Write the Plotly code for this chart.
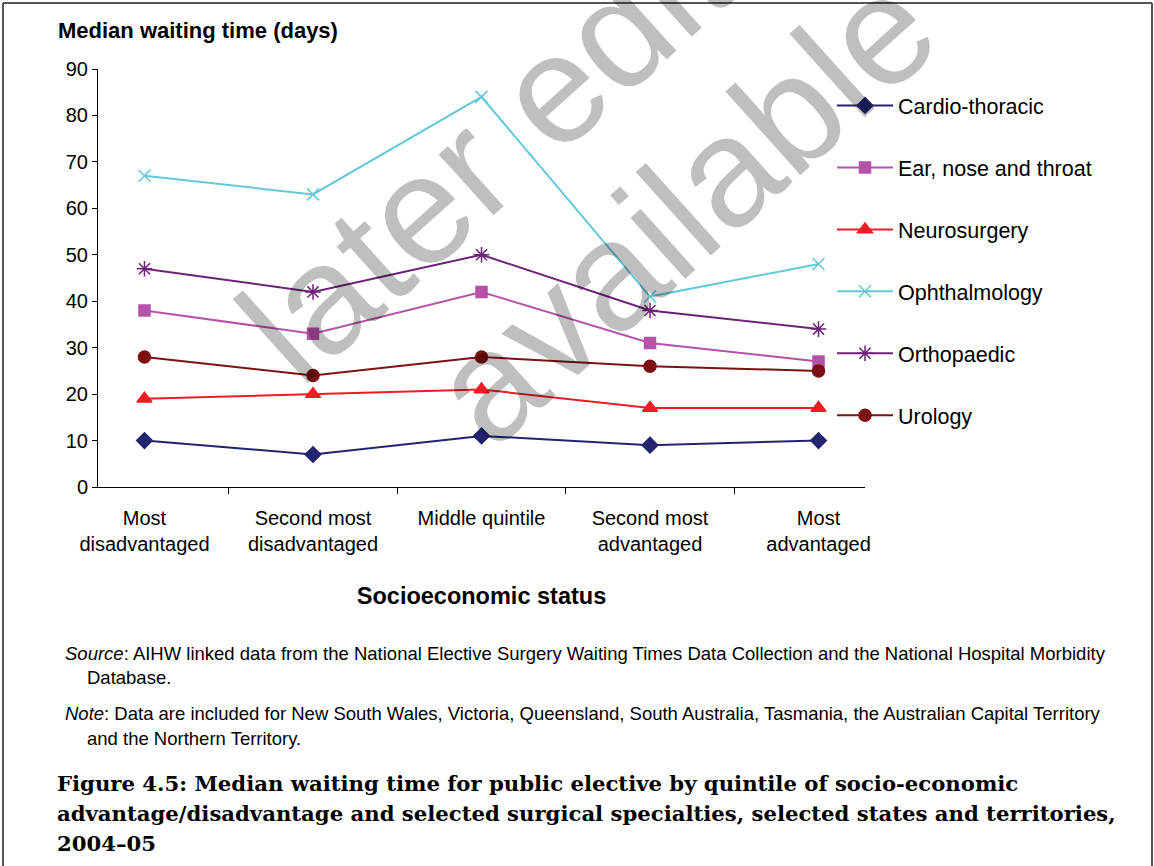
import plotly.graph_objects as go

# quintiles of socio-economic status
quintiles = ["Most<br>disadvantaged", "Second most<br>disadvantaged", "Middle quintile",
             "Second most<br>advantaged", "Most<br>advantaged"]

cardio = [10, 7, 11, 9, 10]
ent = [38, 33, 42, 31, 27]
neuro = [19, 20, 21, 17, 17]
ophthal = [67, 63, 84, 41, 48]
ortho = [47, 42, 50, 38, 34]
urology = [28, 24, 28, 26, 25]

series = [
    ("Cardio-thoracic", cardio, "#23236F", "diamond", 12),
    ("Ear, nose and throat", ent, "#B652A8", "square", 11),
    ("Neurosurgery", neuro, "#EE1D25", "triangle-up", 13),
    ("Ophthalmology", ophthal, "#63C8D8", "x-thin-open", 12),
    ("Orthopaedic", ortho, "#6C2276", "asterisk-open", 13),
    ("Urology", urology, "#7B1113", "circle", 12),
]

# plot area in pixels, used to place the notes outside it
L, R, T, B = 98, 865, 69, 487


def px(x):
    return (x - L) / (R - L)


def py(y):
    return (B - y) / (B - T)


fig = go.Figure()
for i, (name, vals, col, sym, size) in enumerate(series):
    fig.add_trace(go.Scatter(
        x=quintiles, y=vals, name=name, mode="lines+markers",
        legendgroup=str(i),
        line=dict(color=col, width=2),
        marker=dict(symbol=sym, size=size, color=col,
                    line=dict(color=col, width=1.5)),
    ))

font = "Liberation Sans, Arial, sans-serif"
serif = "DejaVu Serif, serif"

fig.update_layout(
    width=1154, height=866,
    margin=dict(l=L, r=1154 - R, t=T, b=866 - B),
    paper_bgcolor="white", plot_bgcolor="white",
    font=dict(family=font, size=20, color="black"),
    showlegend=True,
    legend=dict(x=px(832), xanchor="left", y=py(85), yanchor="top",
                traceorder="grouped", tracegroupgap=31, itemwidth=56,
                font=dict(size=21.5), bgcolor="rgba(0,0,0,0)"),
    xaxis=dict(showline=True, linecolor="black", linewidth=1,
               ticks="outside", ticklen=6, tickcolor="black",
               tickson="boundaries", showgrid=False, ticklabelstandoff=13,
               tickfont=dict(size=20),
               title=dict(text="<b>Socioeconomic status</b>",
                          font=dict(size=23.5), standoff=33)),
    yaxis=dict(range=[0, 90], dtick=10, showline=True, linecolor="black",
               linewidth=1, ticks="outside", ticklen=5, tickcolor="black",
               showgrid=False, zeroline=False, tickfont=dict(size=20)),
)

wm = dict(size=155, color="rgba(0,0,0,0.25)")
ann = [
    dict(text="<b>Median waiting time (days)</b>", x=px(56), y=py(30),
         xanchor="left", yanchor="middle", font=dict(size=22)),
    dict(text="<i>Source</i>: AIHW linked data from the National Elective Surgery Waiting Times "
              "Data Collection and the National Hospital Morbidity",
         x=px(63), y=py(653), xanchor="left", yanchor="middle", font=dict(size=18.5)),
    dict(text="Database.", x=px(85), y=py(677), xanchor="left", yanchor="middle",
         font=dict(size=18.5)),
    dict(text="<i>Note</i>: Data are included for New South Wales, Victoria, Queensland, South "
              "Australia, Tasmania, the Australian Capital Territory",
         x=px(63), y=py(713), xanchor="left", yanchor="middle", font=dict(size=18.5)),
    dict(text="and the Northern Territory.", x=px(85), y=py(738), xanchor="left",
         yanchor="middle", font=dict(size=18.5)),
    dict(text="<b>Figure 4.5: Median waiting time for public elective by quintile of "
              "socio-economic</b>",
         x=px(55), y=py(783), xanchor="left", yanchor="middle",
         font=dict(family=serif, size=21.2)),
    dict(text="<b>advantage/disadvantage and selected surgical specialties, selected "
              "states and territories,</b>",
         x=px(55), y=py(813), xanchor="left", yanchor="middle",
         font=dict(family=serif, size=21.2)),
    dict(text="<b>2004–05</b>", x=px(55), y=py(843), xanchor="left", yanchor="middle",
         font=dict(family=serif, size=21.2)),
    # watermark, two lines
    dict(text="later edition", x=px(561), y=py(82), xanchor="center", yanchor="middle",
         textangle=-42, font=wm),
    dict(text="available", x=px(683), y=py(208), xanchor="center", yanchor="middle",
         textangle=-42, font=wm),
]
for a in ann:
    a.update(xref="paper", yref="paper", showarrow=False)
    fig.add_annotation(**a)

# page frame
for x0, y0, x1, y1 in [(3, 3, 1152, 3), (3, 3, 3, 866), (1152, 3, 1152, 866)]:
    fig.add_shape(type="line", xref="paper", yref="paper",
                  x0=px(x0), y0=py(y0), x1=px(x1), y1=py(y1),
                  line=dict(color="#555555", width=2))

fig.write_html("out.html", config={"displayModeBar": False},
               post_script="document.body.style.margin='0';"
                           "document.body.style.overflow='hidden';")
